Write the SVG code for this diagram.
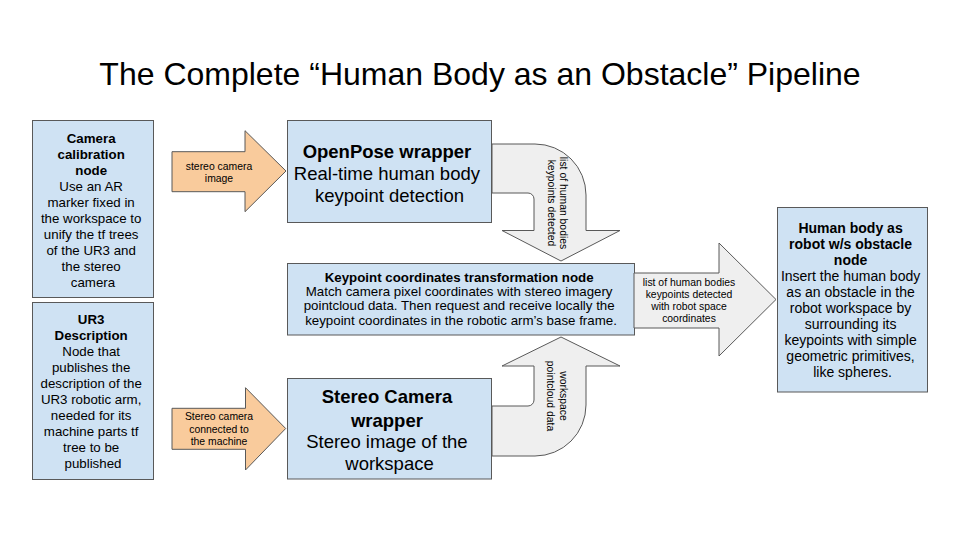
<svg xmlns="http://www.w3.org/2000/svg" width="960" height="540" viewBox="0 0 960 540">
<style>
.box{fill:#cfe2f3;stroke:#595959;stroke-width:1}
.org{fill:#f9cb9c;stroke:#595959;stroke-width:1}
.gry{fill:#efefef;stroke:#595959;stroke-width:1}
text{font-family:"Liberation Sans",Arial,sans-serif;fill:#000;text-anchor:middle}
.b{font-weight:bold}
.s13{font-size:13.3px}
.s14{font-size:14px}
.s18{font-size:18.5px}
.s10{font-size:10.4px}
</style>
<rect width="960" height="540" fill="#fff"/>
<text x="480" y="85" style="font-size:32px">The Complete “Human Body as an Obstacle” Pipeline</text>

<g id="camera-calibration">
<rect class="box" x="32.5" y="120.5" width="121" height="177"/>
<text class="s13" x="93">
<tspan class="b" x="93" y="143">Camera</tspan>
<tspan class="b" x="93" y="159">calibration</tspan>
<tspan class="b" x="93" y="175">node</tspan>
<tspan x="93" y="191">Use an AR</tspan>
<tspan x="93" y="207">marker fixed in</tspan>
<tspan x="93" y="222.5">the workspace to</tspan>
<tspan x="93" y="238.5">unify the tf trees</tspan>
<tspan x="93" y="254.5">of the UR3 and</tspan>
<tspan x="93" y="270.5">the stereo</tspan>
<tspan x="93" y="286.5">camera</tspan>
</text>
</g>

<g id="ur3-description">
<rect class="box" x="32.5" y="302.5" width="121" height="177"/>
<text class="s13" x="93">
<tspan class="b" x="93" y="324">UR3</tspan>
<tspan class="b" x="93" y="340">Description</tspan>
<tspan x="93" y="356">Node that</tspan>
<tspan x="93" y="372">publishes the</tspan>
<tspan x="93" y="388">description of the</tspan>
<tspan x="93" y="404">UR3 robotic arm,</tspan>
<tspan x="93" y="420">needed for its</tspan>
<tspan x="93" y="436">machine parts tf</tspan>
<tspan x="93" y="452">tree to be</tspan>
<tspan x="93" y="468">published</tspan>
</text>
</g>

<g id="openpose-wrapper">
<rect class="box" x="287.5" y="120.5" width="204" height="102"/>
<text class="s18" x="389.5">
<tspan class="b" x="389.5" y="158">OpenPose wrapper</tspan>
<tspan x="389.5" y="179.5">Real-time human body</tspan>
<tspan x="389.5" y="201.5">keypoint detection</tspan>
</text>
</g>

<g id="keypoint-transformation">
<rect class="box" x="287.5" y="263.5" width="347" height="71.5"/>
<text class="s13" x="461">
<tspan class="b" x="461" y="281.5">Keypoint coordinates transformation node</tspan>
<tspan x="461" y="296">Match camera pixel coordinates with stereo imagery</tspan>
<tspan x="461" y="310.3">pointcloud data. Then request and receive locally the</tspan>
<tspan x="461" y="324.7">keypoint coordinates in the robotic arm’s base frame.</tspan>
</text>
</g>

<g id="stereo-camera-wrapper">
<rect class="box" x="287.5" y="378.5" width="204" height="100.5"/>
<text class="s18" x="389.5">
<tspan class="b" x="389.5" y="403.4">Stereo Camera</tspan>
<tspan class="b" x="389.5" y="426.7">wrapper</tspan>
<tspan x="389.5" y="448.4">Stereo image of the</tspan>
<tspan x="389.5" y="470">workspace</tspan>
</text>
</g>

<g id="human-body-obstacle">
<rect class="box" x="777.5" y="207.5" width="150" height="184.5"/>
<text class="s14" x="852.5">
<tspan class="b" x="852.5" y="233.3">Human body as</tspan>
<tspan class="b" x="852.5" y="249.3">robot w/s obstacle</tspan>
<tspan class="b" x="852.5" y="265.3">node</tspan>
<tspan x="852.5" y="281.3">Insert the human body</tspan>
<tspan x="852.5" y="297.3">as an obstacle in the</tspan>
<tspan x="852.5" y="313.3">robot workspace by</tspan>
<tspan x="852.5" y="329.3">surrounding its</tspan>
<tspan x="852.5" y="345.3">keypoints with simple</tspan>
<tspan x="852.5" y="361.3">geometric primitives,</tspan>
<tspan x="852.5" y="377.3">like spheres.</tspan>
</text>
</g>

<g id="connectors">
<g id="arrow-stereo-image">
<path class="org" d="M172 151.7H245V130.7L286 171L245 211.7V191.7H172Z"/>
<text class="s10" x="219"><tspan x="219" y="169.7">stereo camera</tspan><tspan x="219" y="182">image</tspan></text>
</g>
<g id="arrow-stereo-connected">
<path class="org" d="M172 408.3H245.5V387.7L285.7 428.5L245.5 470V449.3H172Z"/>
<text class="s10" x="219"><tspan x="219" y="420.4">Stereo camera</tspan><tspan x="219" y="433">connected to</tspan><tspan x="219" y="445.4">the machine</tspan></text>
</g>
<g id="arrow-keypoints">
<path class="gry" d="M492 144H535A51 51 0 0 1 586 195V230.5H620L561 261L502 230.5H534V199A6 6 0 0 0 528 193H492Z"/>
<text class="s10" transform="translate(556 203) rotate(90)"><tspan x="0" y="-4">list of human bodies</tspan><tspan x="0" y="8">keypoints detected</tspan></text>
</g>
<g id="arrow-pointcloud">
<path class="gry" d="M492 456H535A51 51 0 0 0 586 405V366H620L561 337L502 366H534V400A6 6 0 0 1 528 406H492Z"/>
<text class="s10" transform="translate(556 396) rotate(90)"><tspan x="0" y="-3.5">workspace</tspan><tspan x="0" y="9.5">pointcloud data</tspan></text>
</g>
<g id="arrow-robot-space">
<path class="gry" d="M634 273H719V243L776 299.5L719 356V328H634Z"/>
<text class="s10" x="689"><tspan x="689" y="285.7">list of human bodies</tspan><tspan x="689" y="297.7">keypoints detected</tspan><tspan x="689" y="309.7">with robot space</tspan><tspan x="689" y="321.7">coordinates</tspan></text>
</g>
</g>
</svg>
